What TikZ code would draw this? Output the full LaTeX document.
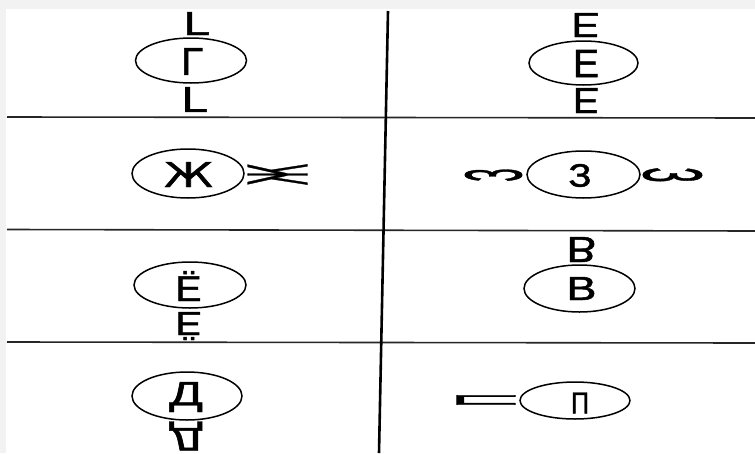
\documentclass[tikz,border=0pt]{standalone}
\usepackage{fontspec}
\setmainfont[FakeBold=1.3]{Liberation Sans}
\newfontfamily\djv[FakeBold=1.3]{DejaVu Sans}
\usetikzlibrary{shapes.geometric}
\newcommand{\LtrBox}[3]{\resizebox*{#1pt}{#2pt}{#3}}
\newcommand{\FlipV}[1]{\scalebox{1}[-1]{#1}}
\tikzset{
  oval/.style={ellipse, draw, line width=1.5pt, inner sep=0pt},
  ltr/.style={inner sep=0pt, outer sep=0pt, anchor=center},
  rule/.style={line width=1.6pt, black!85}
}
\begin{document}
\begin{tikzpicture}[x=1pt,y=-1pt]
\useasboundingbox (0,0) rectangle (755,453);
\fill[white] (0,0) rectangle (755,453);
\fill[gray!10] (0,0) rectangle (755,9);
\fill[gray!10] (0,0) rectangle (6,453);
% table rules
\draw[rule] (7,117) -- (755,118);
\draw[rule] (7,229.5) -- (755,231);
\draw[rule] (7,342) -- (755,343);
\draw[line width=2.6pt] (388,11) -- (379,453);
% row 1 left: Г
\node[oval, minimum width=111pt, minimum height=45pt] (o1) at (191,60.5) {};
\node[ltr] (g1) at (192,61.5) {\LtrBox{22}{27}{Г}};
\node[ltr] (g1t) at (196.5,23.5) {\FlipV{\LtrBox{26}{23}{Г}}};
\node[ltr] (g1b) at (194.5,99.5) {\FlipV{\LtrBox{26}{25}{Г}}};
% row 1 right: Е
\node[oval, minimum width=109pt, minimum height=44pt] (o2) at (583.5,63) {};
\node[ltr] (e1) at (586,63.5) {\LtrBox{26}{27}{Е}};
\node[ltr] (e1t) at (585.5,25) {\FlipV{\LtrBox{28}{24}{Е}}};
\node[ltr] (e1b) at (586,100.5) {\FlipV{\LtrBox{26}{25}{Е}}};
% row 2 left: Ж
\node[oval, minimum width=112pt, minimum height=49pt] (o3) at (188,173.5) {};
\node[ltr] (zh) at (188.5,174.5) {\LtrBox{49}{25}{\djv Ж}};
\node[ltr] (zhr) at (277.5,174.5) {\rotatebox{90}{\LtrBox{21}{59}{\djv Ж}}};
% row 2 right: З
\node[oval, minimum width=113pt, minimum height=47pt] (o4) at (583.5,174.5) {};
\node[ltr] (ze) at (580,175.5) {\LtrBox{23}{23}{З}};
\node[ltr] (zel) at (493.5,175) {\rotatebox{90}{\LtrBox{13}{57}{З}}};
\node[ltr] (zer) at (672.5,175) {\rotatebox{-90}{\LtrBox{15}{59}{З}}};
% row 3 left: Ё
\node[oval, minimum width=112pt, minimum height=46pt] (o5) at (190,285) {};
\node[ltr] (yo) at (188.5,286) {\LtrBox{26}{30}{Ё}};
\node[ltr] (yob) at (188.5,326) {\FlipV{\LtrBox{26}{28}{Ё}}};
% row 3 right: В
\node[oval, minimum width=111pt, minimum height=47pt] (o6) at (579.5,288.5) {};
\node[ltr] (ve) at (581.5,288.5) {\LtrBox{30}{23}{В}};
\node[ltr] (vet) at (581.5,249.5) {\FlipV{\LtrBox{30}{25}{В}}};
% row 4 left: Д
\node[oval, minimum width=110pt, minimum height=48pt] (o7) at (187,396) {};
\node[ltr] (de) at (186,397) {\LtrBox{34}{30}{Д}};
\node[ltr] (deb) at (186,436) {\FlipV{\LtrBox{34}{29}{Д}}};
% row 4 right: П
\node[oval, minimum width=110pt, minimum height=37pt] (o8) at (575,400.5) {};
\node[ltr] (pe) at (580,403) {\LtrBox{18}{21}{П}};
\node[ltr] (pel) at (486,400) {\rotatebox{90}{\LtrBox{12}{58}{П}}};
\end{tikzpicture}
\end{document}
